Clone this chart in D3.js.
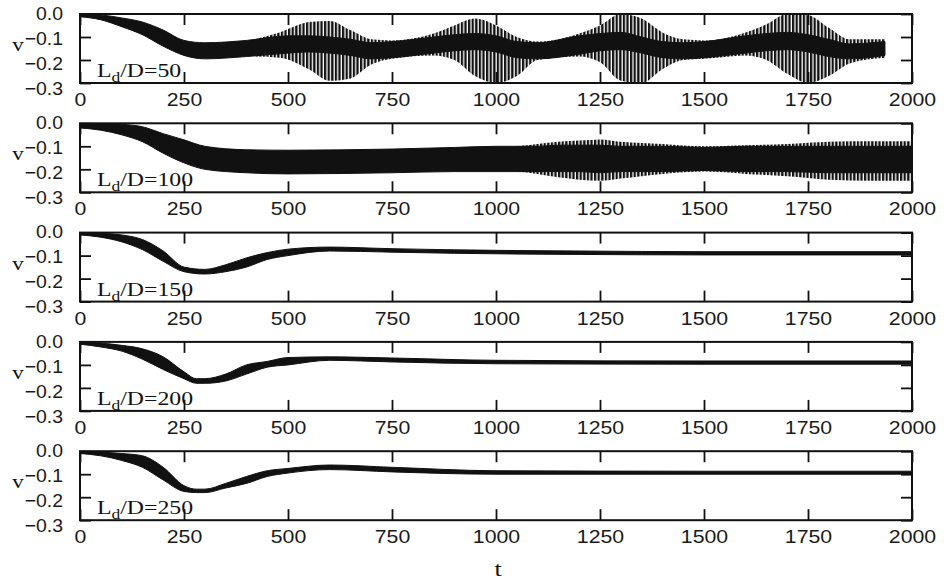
<!DOCTYPE html>
<html>
<head>
<meta charset="utf-8">
<script src="https://cdn.jsdelivr.net/npm/d3@7"></script>
<style>
	body { margin: 0; background: #fff; }
	svg { display: block; }
</style>
</head>
<body>
<div id="chart"></div>
<script>
'use strict'

/**
 * Five stacked panels of v(t), one per L_d/D ratio.
 * The fast oscillation is drawn as its envelope : a dense core band
 * and, where there are beats, a wider outer band.
 */

const tTicks = [0, 250, 500, 750, 1000, 1250, 1500, 1750, 2000];
const vTicks = [0.0, -0.1, -0.2, -0.3];
const ratios = ['50', '100', '150', '200', '250'];

// L_d/D = 50
const t50 = [0, 50, 100, 150, 200, 250, 300, 400, 500, 550, 600, 650, 700, 750, 850, 900, 950, 1000, 1050, 1100, 1200, 1250, 1300, 1350, 1400, 1450, 1500, 1600, 1650, 1700, 1750, 1800, 1850, 1935];
const hi50 = [0, -0.004, -0.017, -0.035, -0.07, -0.115, -0.125, -0.115, -0.095, -0.095, -0.1, -0.11, -0.125, -0.12, -0.1, -0.09, -0.085, -0.095, -0.12, -0.125, -0.095, -0.085, -0.08, -0.1, -0.12, -0.125, -0.12, -0.095, -0.085, -0.08, -0.09, -0.11, -0.13, -0.12];
const lo50 = [-0.012, -0.025, -0.055, -0.09, -0.14, -0.18, -0.195, -0.185, -0.17, -0.165, -0.17, -0.18, -0.195, -0.19, -0.17, -0.16, -0.155, -0.165, -0.19, -0.195, -0.175, -0.16, -0.155, -0.17, -0.19, -0.195, -0.19, -0.17, -0.16, -0.155, -0.165, -0.185, -0.195, -0.18];
const tOut50 = [420, 480, 550, 600, 650, 700, 750, 850, 900, 950, 1000, 1050, 1100, 1200, 1250, 1300, 1350, 1400, 1450, 1500, 1600, 1650, 1700, 1750, 1800, 1850, 1935];
const hiOut50 = [-0.11, -0.08, -0.035, -0.03, -0.07, -0.11, -0.115, -0.085, -0.05, -0.02, -0.05, -0.1, -0.12, -0.085, -0.05, 0, -0.02, -0.08, -0.11, -0.115, -0.08, -0.045, 0, -0.005, -0.06, -0.11, -0.11];
const loOut50 = [-0.185, -0.19, -0.24, -0.29, -0.28, -0.22, -0.195, -0.18, -0.2, -0.27, -0.3, -0.27, -0.2, -0.185, -0.21, -0.29, -0.3, -0.24, -0.2, -0.195, -0.18, -0.2, -0.26, -0.3, -0.27, -0.215, -0.19];

// L_d/D = 100
const t100 = [0, 50, 100, 150, 200, 250, 300, 400, 500, 750, 900, 1000, 1100, 1150, 1200, 1250, 1300, 1400, 1500, 1600, 1700, 1800, 1900, 2000];
const hi100 = [0, 0, -0.004, -0.015, -0.045, -0.072, -0.1, -0.115, -0.117, -0.112, -0.105, -0.1, -0.1, -0.095, -0.095, -0.095, -0.1, -0.1, -0.105, -0.1, -0.1, -0.1, -0.1, -0.1];
const lo100 = [-0.02, -0.03, -0.05, -0.08, -0.13, -0.172, -0.2, -0.215, -0.22, -0.215, -0.21, -0.21, -0.21, -0.21, -0.21, -0.215, -0.21, -0.21, -0.205, -0.21, -0.21, -0.215, -0.215, -0.215];
const tOut100 = [1050, 1100, 1150, 1200, 1250, 1300, 1400, 1500, 1600, 1700, 1800, 1900, 2000];
const hiOut100 = [-0.1, -0.09, -0.08, -0.075, -0.07, -0.08, -0.09, -0.1, -0.095, -0.09, -0.08, -0.078, -0.078];
const loOut100 = [-0.21, -0.22, -0.235, -0.245, -0.25, -0.24, -0.22, -0.21, -0.22, -0.23, -0.245, -0.25, -0.25];

// L_d/D = 150
const t150 = [0, 50, 100, 150, 200, 250, 300, 350, 400, 450, 500, 600, 750, 900, 1200, 1500, 2000];
const hi150 = [0, -0.003, -0.01, -0.03, -0.08, -0.15, -0.16, -0.14, -0.11, -0.087, -0.072, -0.063, -0.07, -0.075, -0.08, -0.083, -0.083];
const lo150 = [-0.01, -0.02, -0.04, -0.074, -0.125, -0.17, -0.18, -0.17, -0.15, -0.117, -0.1, -0.08, -0.085, -0.09, -0.095, -0.097, -0.097];

// L_d/D = 200
const t200 = [0, 50, 100, 150, 200, 250, 280, 300, 350, 400, 450, 500, 600, 750, 1000, 1500, 2000];
const hi200 = [0, -0.005, -0.015, -0.03, -0.065, -0.13, -0.16, -0.16, -0.14, -0.1, -0.085, -0.068, -0.065, -0.07, -0.08, -0.083, -0.083];
const lo200 = [-0.01, -0.022, -0.04, -0.075, -0.12, -0.16, -0.18, -0.18, -0.17, -0.14, -0.11, -0.1, -0.08, -0.087, -0.095, -0.097, -0.097];

// L_d/D = 250
const t250 = [0, 50, 100, 150, 200, 250, 280, 300, 350, 400, 450, 500, 600, 750, 1000, 1500, 2000];
const hi250 = [0, -0.004, -0.01, -0.02, -0.07, -0.15, -0.165, -0.165, -0.14, -0.11, -0.085, -0.075, -0.06, -0.07, -0.085, -0.087, -0.087];
const lo250 = [-0.01, -0.02, -0.04, -0.07, -0.125, -0.175, -0.18, -0.18, -0.16, -0.14, -0.11, -0.095, -0.08, -0.09, -0.1, -0.1, -0.1];

const panels = [
	{ ratio: ratios[0], core: [t50, hi50, lo50], outer: [tOut50, hiOut50, loOut50] },
	{ ratio: ratios[1], core: [t100, hi100, lo100], outer: [tOut100, hiOut100, loOut100] },
	{ ratio: ratios[2], core: [t150, hi150, lo150], outer: null },
	{ ratio: ratios[3], core: [t200, hi200, lo200], outer: null },
	{ ratio: ratios[4], core: [t250, hi250, lo250], outer: null }
];

const width = 944;
const height = 581;
const left = 80, right = 912;
const firstTop = 14, step = 109.3, panelH = 69;
const tickLen = 11;
const sansFont = '"Liberation Sans", Arial, sans-serif';
const serifFont = '"Liberation Serif", "Times New Roman", serif';

const svg = d3.select('#chart')
	.append('svg')
	.attr('width', width)
	.attr('height', height);

// hatch used for the beating part of the signal
const defs = svg.append('defs');
defs.append('pattern')
	.attr('id', 'beats')
	.attr('patternUnits', 'userSpaceOnUse')
	.attr('width', 3.6)
	.attr('height', 10)
	.append('rect')
		.attr('width', 2.3)
		.attr('height', 10)
		.attr('fill', '#111');

const x = d3.scaleLinear().domain([0, 2000]).range([left, right]);

function zipBand(cols) {
	return cols[0].map((t, i) => ({ t: t, hi: cols[1][i], lo: cols[2][i] }));
}

function drawPanel(p, i) {
	const top = firstTop + i * step;
	const y = d3.scaleLinear().domain([0, -0.3]).range([top, top + panelH]);
	const yLabel = d3.scaleLinear().domain([0, -0.3]).range([top - 1, top + 74]);

	const g = svg.append('g');

	defs.append('clipPath')
		.attr('id', 'clip' + i)
		.append('rect')
			.attr('x', left).attr('y', top)
			.attr('width', right - left).attr('height', panelH);

	const area = d3.area()
		.x(d => x(d.t))
		.y0(d => y(d.lo))
		.y1(d => y(d.hi))
		.curve(d3.curveMonotoneX);

	const plot = g.append('g').attr('clip-path', 'url(#clip' + i + ')');

	if(p.outer) {
		plot.append('path')
			.datum(zipBand(p.outer))
			.attr('d', area)
			.attr('fill', 'url(#beats)');
	}
	plot.append('path')
		.datum(zipBand(p.core))
		.attr('d', area)
		.attr('fill', '#111')
		.attr('stroke', '#111')
		.attr('stroke-width', 1);

	// ticks inside the frame on all four sides
	g.append('g')
		.attr('transform', `translate(0,${top + panelH})`)
		.call(d3.axisBottom(x).tickValues(tTicks).tickFormat(d3.format('d'))
			.tickSizeInner(-tickLen).tickSizeOuter(0).tickPadding(10))
		.call(ax => ax.selectAll('text')
			.attr('transform', 'scale(1.15,1)')
			.style('font-family', sansFont)
			.style('font-size', '18.5px')
			.attr('fill', '#1a1a1a'));
	g.append('g')
		.attr('transform', `translate(0,${top})`)
		.call(d3.axisTop(x).tickValues(tTicks).tickSizeInner(-tickLen).tickSizeOuter(0).tickFormat(''));
	g.append('g')
		.attr('transform', `translate(${left},0)`)
		.call(d3.axisLeft(y).tickValues(vTicks).tickSizeInner(-tickLen).tickSizeOuter(0).tickFormat(''));
	g.append('g')
		.attr('transform', `translate(${right},0)`)
		.call(d3.axisRight(y).tickValues(vTicks).tickSizeInner(-tickLen).tickSizeOuter(0).tickFormat(''));

	g.selectAll('.domain').remove();
	g.selectAll('.tick line').attr('stroke', '#111').attr('stroke-width', 1.8);

	g.append('rect')
		.attr('x', left).attr('y', top)
		.attr('width', right - left).attr('height', panelH)
		.attr('fill', 'none')
		.attr('stroke', '#111')
		.attr('stroke-width', 2);

	// y tick labels, a bit wider spaced than the ticks like in the paper
	g.selectAll('text.vlab')
		.data(vTicks)
		.enter()
		.append('text')
			.attr('class', 'vlab')
			.attr('transform', d => `translate(63,${yLabel(d)}) scale(1.05,1)`)
			.attr('text-anchor', 'end')
			.attr('dy', '0.36em')
			.style('font-family', sansFont)
			.style('font-size', '18.5px')
			.attr('fill', '#1a1a1a')
			.text(d => d3.format('.1f')(d));

	g.append('text')
		.attr('transform', `translate(18,${top + 37}) scale(1.2,1)`)
		.attr('text-anchor', 'middle')
		.style('font-family', serifFont)
		.style('font-size', '19px')
		.attr('fill', '#111')
		.text('v');

	const lbl = g.append('text')
		.attr('transform', `translate(97,${top + 63}) scale(1.25,1)`)
		.style('font-family', serifFont)
		.style('font-size', '19px')
		.attr('fill', '#111');
	lbl.append('tspan').text('L');
	lbl.append('tspan').attr('dy', 5).style('font-size', '14px').text('d');
	lbl.append('tspan').attr('dy', -5).text('/D=' + p.ratio);
}

panels.forEach(drawPanel);

svg.append('text')
	.attr('transform', 'translate(498,576) scale(1.3,1)')
	.attr('text-anchor', 'middle')
	.style('font-family', serifFont)
	.style('font-size', '20px')
	.attr('fill', '#111')
	.text('t');
</script>
</body>
</html>
